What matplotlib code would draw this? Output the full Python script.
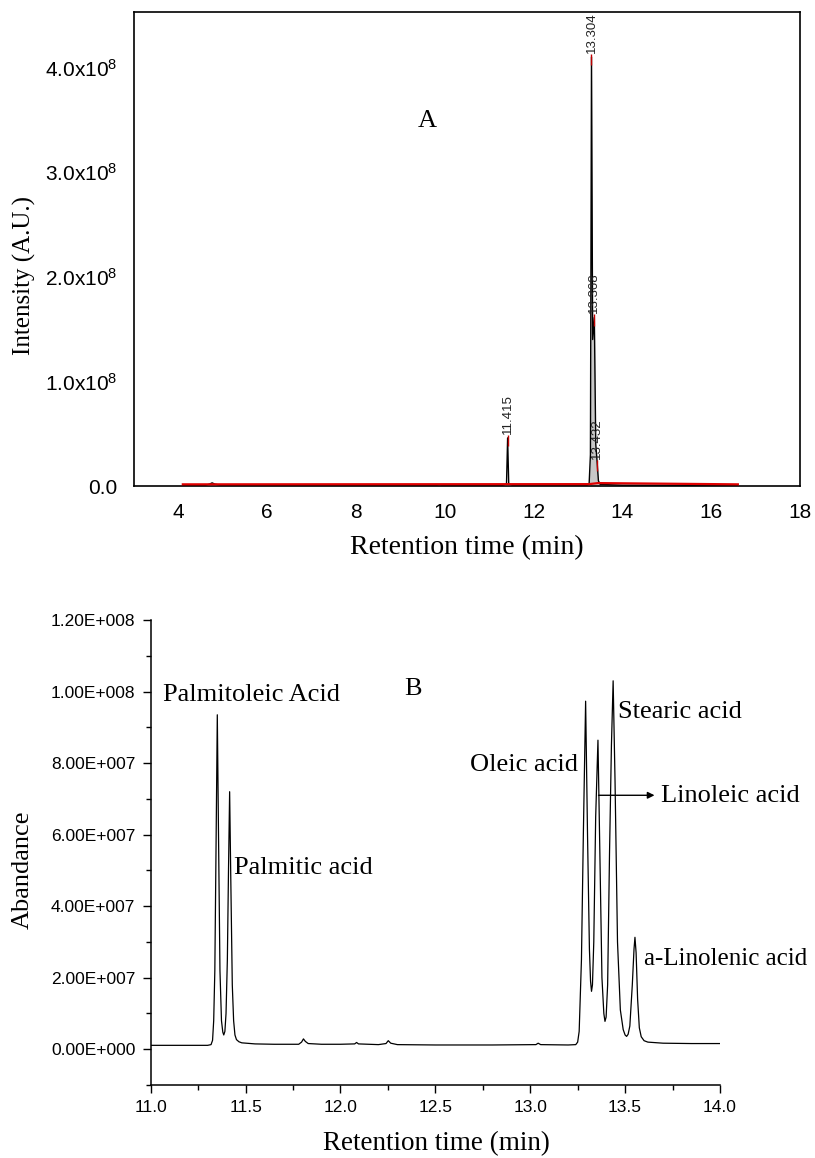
import numpy as np
import matplotlib.pyplot as plt
from matplotlib.ticker import MultipleLocator

plt.rcParams['font.family'] = 'Liberation Sans'
plt.rcParams['mathtext.default'] = 'regular'
serif = 'Liberation Serif'

# ---- panel A: full chromatogram (intensity in units of 1e6) ----
a_time = [4.10, 4.60, 4.70, 4.76, 4.82, 4.95, 5.50, 9.80, 9.88, 9.95, 11.30, 11.39,
          11.415, 11.44, 11.52, 13.20, 13.25, 13.28, 13.304, 13.33, 13.368, 13.40,
          13.432, 13.46, 13.50, 14.00, 16.60]
a_int = [0.6, 0.6, 1.8, 3.0, 1.8, 0.7, 0.6, 0.6, 1.0, 0.6, 0.6, 2.0,
         46.0, 2.0, 0.8, 0.8, 1.5, 30.0, 410.0, 140.0, 161.0, 40.0,
         22.0, 5.0, 1.5, 0.8, 0.6]
a_base_time = [4.10, 13.25, 13.45, 16.60]
a_base_int = [1.6, 1.8, 2.8, 1.6]
a_peak_time = [11.415, 13.304, 13.368, 13.432]
a_peak_int = [46.0, 410.0, 161.0, 22.0]
a_xticks = [4, 6, 8, 10, 12, 14, 16, 18]
a_yticks = [0, 1e8, 2e8, 3e8, 4e8]
a_ytick_labels = ['0.0', '1.0x10$^8$', '2.0x10$^8$', '3.0x10$^8$', '4.0x10$^8$']

# ---- panel B: zoomed chromatogram (abundance in units of 1e6) ----
b_time = [11.000, 11.100, 11.200, 11.300, 11.318, 11.326, 11.332, 11.338, 11.345, 11.351,
          11.357, 11.365, 11.373, 11.380, 11.385, 11.391, 11.397, 11.404, 11.410, 11.416,
          11.422, 11.430, 11.437, 11.444, 11.452, 11.465, 11.480, 11.550, 11.650, 11.780,
          11.795, 11.805, 11.815, 11.830, 11.900, 12.000, 12.075, 12.085, 12.095, 12.200,
          12.240, 12.252, 12.265, 12.300, 12.500, 12.800, 13.030, 13.042, 13.055, 13.200,
          13.240, 13.250, 13.258, 13.270, 13.280, 13.292, 13.302, 13.312, 13.318, 13.323,
          13.328, 13.335, 13.345, 13.357, 13.367, 13.378, 13.388, 13.394, 13.400, 13.408,
          13.418, 13.428, 13.437, 13.447, 13.460, 13.475, 13.490, 13.500, 13.508, 13.516,
          13.525, 13.538, 13.547, 13.552, 13.558, 13.566, 13.575, 13.585, 13.600, 13.620,
          13.700, 13.850, 14.000]
b_int = [1.1, 1.1, 1.1, 1.1, 1.3, 2.5, 8.0, 22.0, 60.0, 93.5,
         62.0, 22.0, 8.0, 4.8, 4.0, 5.0, 10.0, 25.0, 50.0, 72.0,
         48.0, 18.0, 8.0, 4.0, 2.7, 2.1, 1.8, 1.5, 1.4, 1.4,
         2.0, 2.9, 2.2, 1.6, 1.4, 1.4, 1.5, 1.9, 1.5, 1.3,
         1.6, 2.4, 1.7, 1.3, 1.2, 1.2, 1.3, 1.7, 1.3, 1.2,
         1.3, 2.0, 5.0, 25.0, 60.0, 97.3, 60.0, 28.0, 19.0, 16.2,
         18.0, 30.0, 65.0, 86.4, 55.0, 20.0, 10.0, 7.8, 9.0, 18.0,
         55.0, 85.0, 103.0, 75.0, 30.0, 11.0, 5.5, 4.0, 3.6, 4.2,
         6.5, 18.0, 28.0, 31.3, 27.0, 14.0, 6.0, 3.5, 2.4, 2.0,
         1.7, 1.6, 1.6]
b_labels = ['Palmitoleic Acid', 'Palmitic acid', 'Oleic acid', 'Stearic acid', 'a-Linolenic acid']
b_label_x = [11.065, 11.439, 12.682, 13.465, 13.60]
b_label_y = [99.0, 50.7, 79.6, 94.2, 25.2]
b_label_size = [19, 19, 19, 19, 18]
b_xticks = [11.0, 11.5, 12.0, 12.5, 13.0, 13.5, 14.0]
b_xtick_labels = ['11.0', '11.5', '12.0', '12.5', '13.0', '13.5', '14.0']
b_yticks = [0, 2e7, 4e7, 6e7, 8e7, 1e8, 1.2e8]
b_ytick_labels = ['0.00E+000', '2.00E+007', '4.00E+007', '6.00E+007', '8.00E+007',
                  '1.00E+008', '1.20E+008']

fig = plt.figure(figsize=(8.15, 11.58), dpi=100)

# ---------------- A ----------------
ax = fig.add_axes([0.1644, 0.5803, 0.8172, 0.4093])
at = np.array(a_time)
ai = np.array(a_int) * 1e6
mask = (at >= 13.25) & (at <= 13.50)
ax.fill_between(at[mask], ai[mask], 0, color='#c8c8c8', lw=0, zorder=1)
ax.plot(at, ai, color='black', lw=1.0, zorder=2)
ax.plot(a_base_time, np.array(a_base_int) * 1e6, color='#e00000', lw=1.6, zorder=3)
for t, h in zip(a_peak_time, a_peak_int):
    ax.vlines(t, (h - 8) * 1e6, (h + 3) * 1e6, color='#c00000', lw=1.0, zorder=4)
    ax.text(t, (h + 4) * 1e6, '%.3f' % t, rotation=90, ha='center', va='bottom',
            fontsize=9.5, color='#222222')
ax.text(9.6, 3.486e8, 'A', family=serif, fontsize=19, ha='center', va='center')
ax.set_xlim(3, 18)
ax.set_ylim(0, 4.53e8)
ax.set_xticks(a_xticks)
ax.set_yticks(a_yticks)
ax.set_yticklabels(a_ytick_labels)
ax.tick_params(length=0, labelsize=15, pad=12)
for s in ax.spines.values():
    s.set_linewidth(1.2)
ax.set_xlabel('Retention time (min)', family=serif, fontsize=20, va='center')
ax.xaxis.set_label_coords(0.5, -0.131)
ax.set_ylabel('Intensity (A.U.)', family=serif, fontsize=18, va='center')
ax.yaxis.set_label_coords(-0.165, 0.445)

# ---------------- B ----------------
bx = fig.add_axes([0.1849, 0.0630, 0.6985, 0.4016])
bx.plot(b_time, np.array(b_int) * 1e6, color='black', lw=0.9)
for name, x, y, fs in zip(b_labels, b_label_x, b_label_y, b_label_size):
    bx.text(x, y * 1e6, name, family=serif, fontsize=fs, ha='left', va='center',
            clip_on=False)
bx.text(12.382, 100.7e6, 'B', family=serif, fontsize=19, ha='center', va='center')
bx.annotate('', xy=(13.655, 71e6), xytext=(13.36, 71e6),
            arrowprops=dict(arrowstyle='-|>', color='black', lw=1.0,
                            mutation_scale=10, shrinkA=0, shrinkB=0))
bx.text(13.689, 70.9e6, 'Linoleic acid', family=serif, fontsize=19, ha='left', va='center')
bx.set_xlim(11.0, 14.0)
bx.set_ylim(-1e7, 1.2e8)
bx.set_xticks(b_xticks)
bx.set_xticklabels(b_xtick_labels)
bx.set_yticks(b_yticks)
bx.set_yticklabels(b_ytick_labels)
bx.xaxis.set_minor_locator(MultipleLocator(0.25))
bx.yaxis.set_minor_locator(MultipleLocator(1e7))
bx.tick_params(which='major', direction='out', length=6, width=1, labelsize=12.5, pad=5)
bx.tick_params(which='minor', direction='out', length=3.5, width=1)
bx.spines['top'].set_visible(False)
bx.spines['right'].set_visible(False)
bx.spines['left'].set_linewidth(1.1)
bx.spines['bottom'].set_linewidth(1.1)
bx.set_xlabel('Retention time (min)', family=serif, fontsize=19.5, va='center')
bx.xaxis.set_label_coords(0.502, -0.126)
bx.set_ylabel('Abandance', family=serif, fontsize=19, va='center')
bx.yaxis.set_label_coords(-0.224, 0.462)

fig.savefig('out.png', dpi=100)
